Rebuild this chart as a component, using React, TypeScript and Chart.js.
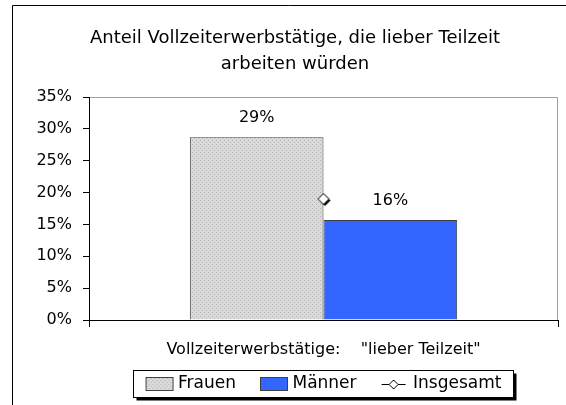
import React, { useEffect, useRef } from "react";
import { Chart, registerables } from "chart.js";

Chart.register(...registerables);

// ---- data ----
const titleLines = ["Anteil Vollzeiterwerbstätige, die lieber Teilzeit", "arbeiten würden"];
const categories = [""];
const xAxisTitle = 'Vollzeiterwerbstätige:    "lieber Teilzeit"';
const seriesNames = ["Frauen", "Männer", "Insgesamt"];
const frauenValues = [28.7];
const maennerValues = [15.7];
const insgesamtValues = [19.0];
const yMin = 0;
const yMax = 35;
const yStep = 5;

const FONT = "'DejaVu Sans', 'Noto Sans', sans-serif";

function makePattern(): CanvasPattern | string {
  const c = document.createElement("canvas");
  c.width = 4;
  c.height = 4;
  const ctx = c.getContext("2d")!;
  ctx.fillStyle = "#dadada";
  ctx.fillRect(0, 0, 4, 4);
  ctx.fillStyle = "#b4b4b4";
  ctx.fillRect(0, 0, 1, 1);
  ctx.fillRect(2, 2, 1, 1);
  const p = ctx.createPattern(c, "repeat");
  return p || "#d4d4d4";
}

function diamondPath(ctx: CanvasRenderingContext2D, cx: number, cy: number, r: number) {
  ctx.beginPath();
  ctx.moveTo(cx, cy - r);
  ctx.lineTo(cx + r, cy);
  ctx.lineTo(cx, cy + r);
  ctx.lineTo(cx - r, cy);
  ctx.closePath();
}

function makeDiamondPoint(): HTMLCanvasElement {
  const c = document.createElement("canvas");
  c.width = 18;
  c.height = 18;
  const ctx = c.getContext("2d")!;
  ctx.fillStyle = "#000";
  diamondPath(ctx, 10.5, 10.5, 5.5);
  ctx.fill();
  ctx.fillStyle = "#fff";
  ctx.strokeStyle = "#000";
  ctx.lineWidth = 1;
  diamondPath(ctx, 9, 9, 5.5);
  ctx.fill();
  ctx.stroke();
  return c;
}

// legend symbol images: 66px wide, content 28px wide at x 21..49
const CX = 21;
function makeLegendBox(fill: CanvasPattern | string): HTMLCanvasElement {
  const c = document.createElement("canvas");
  c.width = 66;
  c.height = 16;
  const ctx = c.getContext("2d")!;
  ctx.fillStyle = fill as any;
  ctx.fillRect(CX, 1, 28, 14);
  ctx.strokeStyle = "#404040";
  ctx.lineWidth = 1;
  ctx.strokeRect(CX + 0.5, 1.5, 27, 13);
  return c;
}

function makeLegendLine(): HTMLCanvasElement {
  const c = document.createElement("canvas");
  c.width = 66;
  c.height = 16;
  const ctx = c.getContext("2d")!;
  ctx.strokeStyle = "#000";
  ctx.lineWidth = 1;
  ctx.beginPath();
  ctx.moveTo(CX + 1, 8.5);
  ctx.lineTo(CX + 25, 8.5);
  ctx.stroke();
  ctx.fillStyle = "#fff";
  diamondPath(ctx, CX + 13, 8.5, 4.5);
  ctx.fill();
  ctx.stroke();
  return c;
}

const decorPlugin = {
  id: "decor",
  beforeDraw(chart: any) {
    const ctx = chart.ctx as CanvasRenderingContext2D;
    const { left, right, top, bottom } = chart.chartArea;
    ctx.save();
    // outer frame (left & top visible)
    ctx.strokeStyle = "#000";
    ctx.lineWidth = 1;
    ctx.beginPath();
    ctx.moveTo(12.5, chart.height);
    ctx.lineTo(12.5, 5.5);
    ctx.lineTo(chart.width, 5.5);
    ctx.stroke();
    // plot area top/right border
    ctx.strokeStyle = "#a0a0a0";
    ctx.beginPath();
    ctx.moveTo(left, Math.round(top) + 0.5);
    ctx.lineTo(Math.round(right) - 0.5, Math.round(top) + 0.5);
    ctx.lineTo(Math.round(right) - 0.5, bottom);
    ctx.stroke();
    // legend frame with shadow
    const hb = chart.legend && chart.legend.legendHitBoxes;
    if (hb && hb.length) {
      const last = hb[hb.length - 1];
      const lx = Math.round(hb[0].left - 13) + 0.5;
      const rx = Math.round(last.left + last.width + 12) + 0.5;
      const cy = hb[0].top + 8.5;
      const ty = Math.round(cy - 14) + 0.5;
      const by = Math.round(cy + 13) + 0.5;
      ctx.fillStyle = "#000";
      ctx.fillRect(lx + 3, ty + 3, rx - lx, by - ty);
      ctx.fillStyle = "#fff";
      ctx.fillRect(lx, ty, rx - lx, by - ty);
      ctx.strokeStyle = "#000";
      ctx.strokeRect(lx, ty, rx - lx, by - ty);
    }
    ctx.restore();
  },
  afterDatasetsDraw(chart: any) {
    const ctx = chart.ctx as CanvasRenderingContext2D;
    ctx.save();
    ctx.fillStyle = "#000";
    ctx.font = `16px ${FONT}`;
    ctx.textAlign = "center";
    ctx.textBaseline = "middle";
    chart.data.datasets.forEach((ds: any, i: number) => {
      if (ds.type !== "bar") return;
      const meta = chart.getDatasetMeta(i);
      meta.data.forEach((el: any, j: number) => {
        const v = ds.data[j];
        ctx.fillText(`${Math.round(v)}%`, el.x, el.y - 19);
      });
    });
    ctx.restore();
  },
};

export default function App() {
  const ref = useRef<HTMLCanvasElement>(null);

  useEffect(() => {
    const canvas = ref.current!;
    const pattern = makePattern();
    const legendImgs = [makeLegendBox(pattern), makeLegendBox("#3366ff"), makeLegendLine()];
    const chart = new Chart(canvas, {
      type: "bar",
      data: {
        labels: categories,
        datasets: [
          {
            type: "bar",
            label: seriesNames[0],
            data: frauenValues,
            backgroundColor: pattern as any,
            borderColor: "#404040",
            borderWidth: 1,
            categoryPercentage: 0.57,
            barPercentage: 1,
            order: 2,
          },
          {
            type: "bar",
            label: seriesNames[1],
            data: maennerValues,
            backgroundColor: "#3366ff",
            borderColor: "#404040",
            borderWidth: 1,
            categoryPercentage: 0.57,
            barPercentage: 1,
            order: 2,
          },
          {
            type: "line",
            label: seriesNames[2],
            data: insgesamtValues,
            showLine: false,
            pointStyle: makeDiamondPoint() as any,
            pointRadius: 6,
            borderColor: "#000",
            backgroundColor: "#fff",
            order: 1,
          } as any,
        ],
      },
      options: {
        responsive: false,
        animation: false,
        layout: { padding: { left: 32, right: 8, top: 0, bottom: 2.5 } },
        scales: {
          x: {
            grid: { drawOnChartArea: false, drawTicks: true, tickLength: 7, color: "#000", offset: true },
            border: { display: true, color: "#000", width: 1 },
            ticks: { display: false },
            title: {
              display: true,
              text: xAxisTitle,
              color: "#000",
              font: { family: FONT, size: 16, lineHeight: 1.2 },
              padding: { top: 0, bottom: -8.1 },
            },
            afterFit: (s: any) => {
              s.height = 31.5;
            },
          },
          y: {
            min: yMin,
            max: yMax,
            grid: { drawOnChartArea: false, drawTicks: true, tickLength: 6, color: "#000" },
            border: { display: true, color: "#000", width: 1 },
            ticks: {
              stepSize: yStep,
              color: "#000",
              padding: 11,
              font: { family: FONT, size: 16 },
              callback: (v: any) => `${v}%`,
            },
            afterFit: (s: any) => {
              s.width = 57;
            },
          },
        },
        plugins: {
          title: {
            display: true,
            text: titleLines,
            color: "#000",
            font: { family: FONT, size: 18, weight: "normal", lineHeight: 26 / 18 },
            padding: { top: 25, bottom: 20 },
          },
          legend: {
            position: "bottom",
            fullSize: false,
            labels: {
              usePointStyle: true,
              pointStyleWidth: 24,
              padding: 24,
              color: "#000",
              font: { family: FONT, size: 17 },
              generateLabels: (c: any) =>
                c.data.datasets.map((ds: any, i: number) => ({
                  text: ds.label,
                  pointStyle: legendImgs[i],
                  datasetIndex: i,
                  hidden: false,
                  lineWidth: 0,
                  fillStyle: "rgba(0,0,0,0)",
                  strokeStyle: "rgba(0,0,0,0)",
                  fontColor: "#000",
                })),
            },
            onClick: () => {},
          },
          tooltip: { enabled: false },
        },
      },
      plugins: [decorPlugin],
    });
    return () => chart.destroy();
  }, []);

  return (
    <div style={{ position: "absolute", left: 0, top: 0, width: 566, height: 405, background: "#fff" }}>
      <canvas ref={ref} width={566} height={405} style={{ display: "block" }} />
    </div>
  );
}
